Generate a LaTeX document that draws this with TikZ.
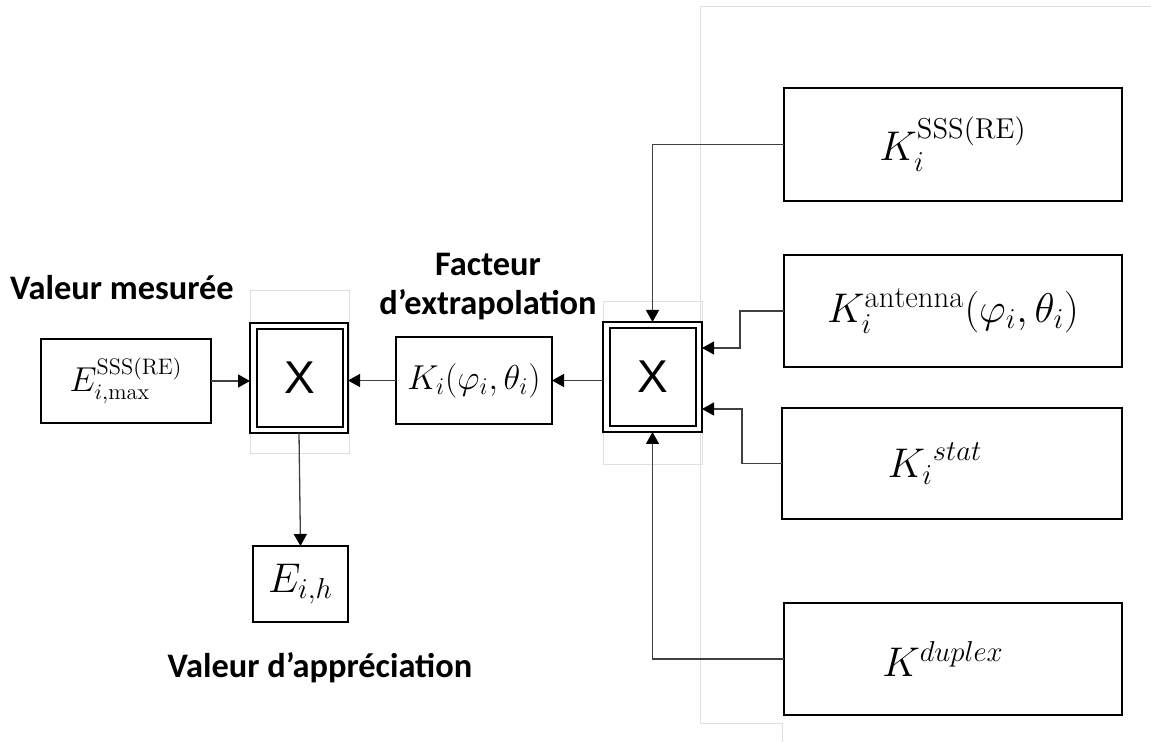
\documentclass[tikz,border=0pt]{standalone}
\usepackage{amsmath}
\usepackage{fontspec}
\newfontfamily\labfont{Carlito}
\newfontfamily\xfont{Liberation Sans}
\usetikzlibrary{arrows.meta}
\begin{document}
\begin{tikzpicture}[x=0.5pt,y=-0.5pt,
  box/.style={draw=black,line width=1pt,inner sep=0pt,outer sep=0pt,fill=white},
  faint/.style={draw=black!12,line width=0.5pt},
  arr/.style={draw=black!75,line width=0.65pt,-{Triangle[length=6pt,width=6.5pt,black]}},
  lab/.style={font=\labfont\bfseries\fontsize{17.2}{19.5}\selectfont,inner sep=0pt,align=center},
  xlab/.style={font=\xfont\fontsize{23}{26}\selectfont}]
\useasboundingbox (0,0) rectangle (1151,742);
% faint frame lines
\draw[faint] (1151,7) -- (700,7) -- (700,723) -- (782,723) -- (782,742);
\draw[faint] (250,291) rectangle (349,454);
\draw[faint] (603,302) rectangle (702,465);
% boxes
\node[box,minimum width=85pt,minimum height=42pt] (e) at (126,381)
  {\fontsize{16}{19}\selectfont$E_{i,\mathrm{max}}^{\mathrm{SSS(RE)}}$};
\node[box,minimum width=49pt,minimum height=55pt] (x1) at (299,378) {};
\node[box,minimum width=43pt,minimum height=49pt,xlab] (x1i) at (300,378) {X};
\node[box,minimum width=78pt,minimum height=43.5pt] (k) at (474,380.5)
  {\fontsize{18}{21}\selectfont$K_i(\varphi_i,\theta_i)$};
\node[box,minimum width=49.5pt,minimum height=55pt] (x2) at (652.5,377) {};
\node[box,minimum width=43pt,minimum height=49pt,xlab] (x2i) at (653,377) {X};
\node[box,minimum width=169pt,minimum height=56.5pt] (ksss) at (953,144.5)
  {\fontsize{20.5}{24}\selectfont$K_i^{\mathrm{SSS(RE)}}$};
\node[box,minimum width=169pt,minimum height=56pt] (kant) at (953,311)
  {\fontsize{22}{26}\selectfont$K_i^{\mathrm{antenna}}(\varphi_i,\theta_i)$};
\node[box,minimum width=170pt,minimum height=55.5pt] (kstat) at (952,463.5)
  {\hspace*{-17pt}\fontsize{22}{26}\selectfont${K_i}^{stat}$};
\node[box,minimum width=169pt,minimum height=56pt] (kdup) at (953,659)
  {\hspace*{-10pt}\fontsize{19.5}{23}\selectfont$K^{duplex}$};
\node[box,minimum width=47.5pt,minimum height=38pt] (eih) at (300.5,584)
  {\fontsize{19.5}{22}\selectfont$E_{i,h}$};
% labels
\node[lab] (vm) at (122,288) {Valeur mesurée};
\node[lab] (fe) at (488,287) {Facteur\\d’extrapolation};
\node[lab] (va) at (320,668) {Valeur d’appréciation};
% connectors
\coordinate (a1) at (740,348);
\coordinate (a2) at (742,409);
\draw[arr] (e.east) -- (e.east -| x1.west);
\draw[arr] (k.west) -- (k.west -| x1.east);
\draw[arr] (k.east -| x2.west) -- (k.east);
\draw[arr] (ksss.west) -| (x2.north);
\draw[arr] (kant.west) -| (a1) -- (a1 -| x2.east);
\draw[arr] (kstat.west) -| (a2) -- (a2 -| x2.east);
\draw[arr] (kdup.west) -| (x2.south);
\draw[arr] (x1.south) -- (eih.north);
\end{tikzpicture}
\end{document}
